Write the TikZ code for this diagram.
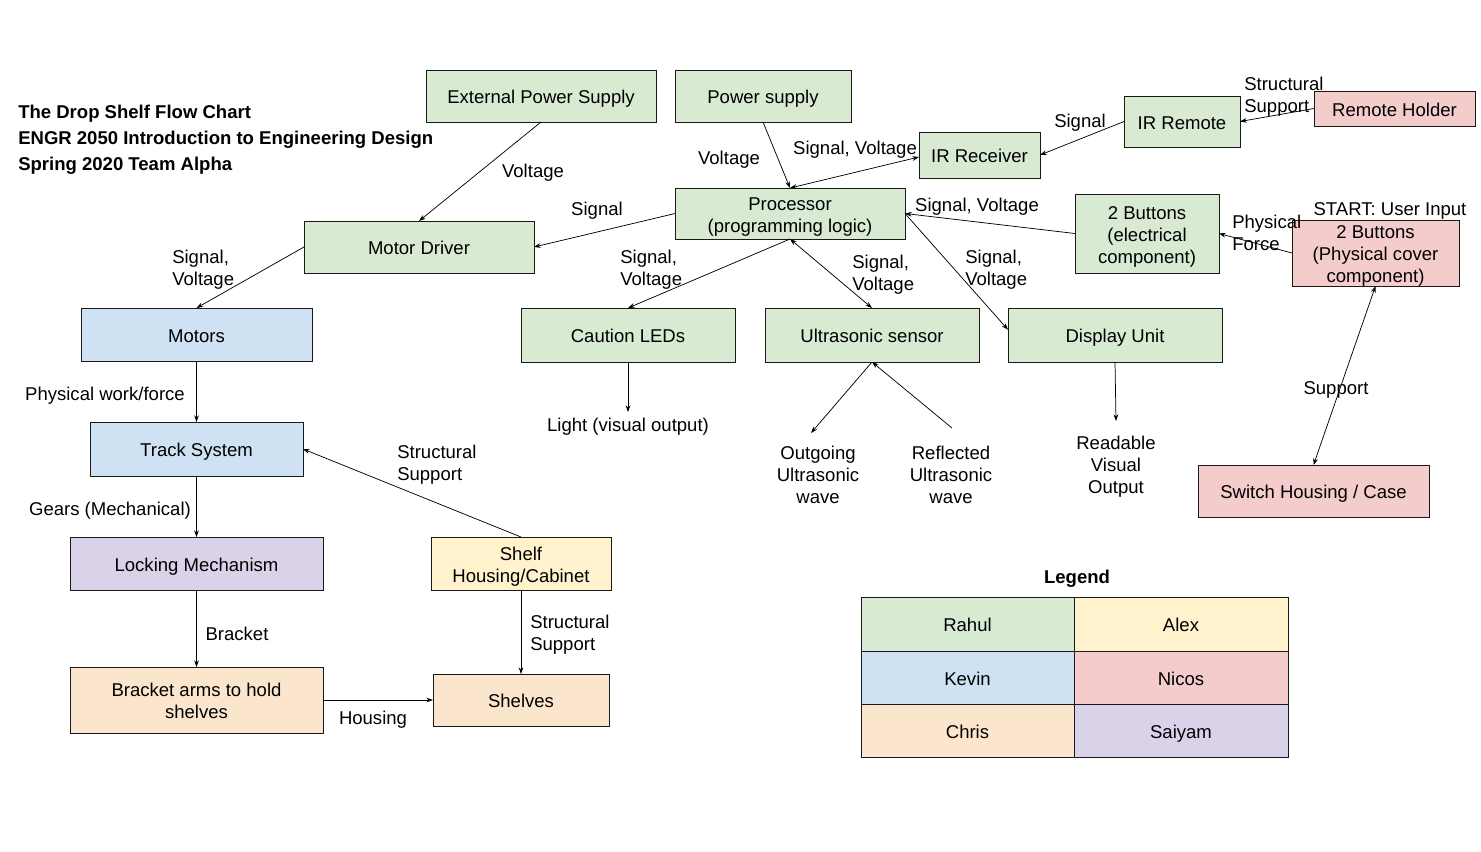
\documentclass[tikz,border=0pt]{standalone}
\usepackage{fontspec}
\setmainfont{Liberation Sans}
\usetikzlibrary{arrows.meta}
\definecolor{cgreen}{HTML}{D9EAD3}
\definecolor{cblue}{HTML}{CFE2F3}
\definecolor{cpink}{HTML}{F4CCCC}
\definecolor{cyellow}{HTML}{FFF2CC}
\definecolor{corange}{HTML}{FCE5CD}
\definecolor{cpurple}{HTML}{D9D2E9}
\newcommand\labfont{\fontsize{13.9}{16.5}\selectfont}
\newcommand\mybox[7]{%
  \node[box,fill=#2,minimum width={(#5-#3)*0.75pt},minimum height={(#6-#4)*0.75pt}] (#1) at ({(#3+#5)/2},{(#4+#6)/2}) {};
  \node[btext] (#1-text) at (#1.center) {\strut #7\strut};}
\begin{document}
\begin{tikzpicture}[x=0.75pt,y=-0.75pt,
  box/.style={draw=black!90,line width=0.7pt,inner sep=0pt,outer sep=0pt},
  btext/.style={inner sep=0pt,align=center,font=\labfont,yshift=-2.6pt},
  lbl/.style={inner sep=0pt,align=center,font=\labfont,yshift=-1.9pt},
  lbll/.style={inner sep=0pt,align=left,anchor=west,font=\labfont,yshift=-1.9pt},
  conn/.style={line width=0.55pt,-{Stealth[length=5pt,width=3.5pt]}},
  bconn/.style={line width=0.55pt,{Stealth[length=5pt,width=3.5pt]}-{Stealth[length=5pt,width=3.5pt]}}]
\fill[white] (0,0) rectangle (1481,851);
\useasboundingbox (0,0) rectangle (1481,851);

% title
\node[inner sep=0pt,anchor=west,align=left,yshift=-1.9pt,font=\bfseries\fontsize{13.9}{19.5}\selectfont] (title) at (18,137)
  {The Drop Shelf Flow Chart\\ENGR 2050 Introduction to Engineering Design\\Spring 2020 Team Alpha};

% boxes
\mybox{extps}{cgreen}{426}{70}{656}{122}{External Power Supply}
\mybox{ps}{cgreen}{675}{70}{851}{122}{Power supply}
\mybox{irr}{cgreen}{919}{132}{1040}{178}{IR Receiver}
\mybox{irremote}{cgreen}{1124}{96}{1240}{147}{IR Remote}
\mybox{holder}{cpink}{1314}{91}{1475}{126}{Remote Holder}
\mybox{proc}{cgreen}{675}{188}{905}{239}{Processor\\(programming logic)}
\mybox{md}{cgreen}{304}{221}{534}{273}{Motor Driver}
\mybox{btn}{cgreen}{1075}{194}{1219}{273}{2 Buttons\\(electrical\\component)}
\mybox{phys}{cpink}{1292}{220}{1459}{286}{2 Buttons\\(Physical cover\\component)}
\mybox{motors}{cblue}{81}{308}{312}{361}{Motors}
\mybox{leds}{cgreen}{521}{308}{735}{362}{Caution LEDs}
\mybox{us}{cgreen}{765}{308}{979}{362}{Ultrasonic sensor}
\mybox{disp}{cgreen}{1008}{308}{1222}{362}{Display Unit}
\mybox{track}{cblue}{90}{422}{303}{476}{Track System}
\mybox{sw}{cpink}{1198}{465}{1429}{517}{Switch Housing / Case}
\mybox{lock}{cpurple}{70}{537}{323}{590}{Locking Mechanism}
\mybox{shelfh}{cyellow}{431}{537}{611}{590}{Shelf\\Housing/Cabinet}
\mybox{bracket}{corange}{70}{667}{323}{733}{Bracket arms to hold\\shelves}
\mybox{shelves}{corange}{433}{674}{609}{726}{Shelves}

% free ends
\coordinate (lightend) at (628,412);
\coordinate (outend) at (811,433);
\coordinate (refstart) at (952,428);
\coordinate (readend) at (1116,421);

% connectors
\draw[conn] (extps.south) -- (md.north);
\draw[conn] (ps.south) -- (proc.north);
\draw[bconn] (proc.north) -- ([yshift=-1.5pt]irr.west);
\draw[conn] (irremote.west) -- (irr.east);
\draw[conn] (holder.west) -- (irremote.east);
\draw[conn] (proc.west) -- (md.east);
\draw[conn] (btn.west) -- (proc.east);
\draw[conn] (phys.west) -- (btn.east);
\draw[conn] (md.west) -- (motors.north);
\draw[conn] (proc.south) -- (leds.north);
\draw[bconn] (proc.south) -- (us.north);
\draw[conn] (proc.east) -- ([yshift=4pt]disp.west);
\draw[conn] (motors.south) -- (track.north);
\draw[conn] (leds.south) -- (lightend);
\draw[conn] (us.south) -- (outend);
\draw[conn] (refstart) -- (us.south);
\draw[conn] (disp.south) -- (readend);
\draw[bconn] (phys.south) -- (sw.north);
\draw[conn] (shelfh.north) -- (track.east);
\draw[conn] (track.south) -- (lock.north);
\draw[conn] (lock.south) -- (bracket.north);
\draw[conn] (shelfh.south) -- (shelves.north);
\draw[conn] (bracket.east) -- (shelves.west);

% labels
\node[lbl] (l1) at (533,170) {Voltage};
\node[lbl] (l2) at (729,157) {Voltage};
\node[lbl] (l3) at (855,147) {Signal, Voltage};
\node[lbl] (l4) at (1080,120) {Signal};
\node[lbll] (l5) at (1244,94) {Structural\\Support};
\node[lbl] (l6) at (597,208) {Signal};
\node[lbl] (l7) at (977,204) {Signal, Voltage};
\node[lbll] (l8) at (1232,230) {Physical\\Force};
\node[lbl] (l9) at (1390,208) {START: User Input};
\node[lbll] (l10) at (172,267) {Signal,\\Voltage};
\node[lbll] (l11) at (620,267) {Signal,\\Voltage};
\node[lbll] (l12) at (852,272) {Signal,\\Voltage};
\node[lbll] (l13) at (965,267) {Signal,\\Voltage};
\node[lbl] (l14) at (105,393) {Physical work/force};
\node[lbl] (l15) at (628,424) {Light (visual output)};
\node[lbl] (l16) at (818,472) {Outgoing\\Ultrasonic\\wave};
\node[lbl] (l17) at (951,472) {Reflected\\Ultrasonic\\wave};
\node[lbl] (l18) at (1116,464) {Readable\\Visual\\Output};
\node[lbl] (l19) at (1336,387) {Support};
\node[lbll] (l20) at (397,462) {Structural\\Support};
\node[lbl] (l21) at (110,508) {Gears (Mechanical)};
\node[lbl] (l22) at (237,631) {Bracket};
\node[lbll] (l23) at (530,632) {Structural\\Support};
\node[lbl] (l24) at (373,717) {Housing};

% legend
\node[lbl,font=\bfseries\labfont] (legend) at (1077,576) {Legend};
\mybox{g1}{cgreen}{861}{597}{1074}{651}{Rahul}
\mybox{g2}{cyellow}{1074}{597}{1288}{651}{Alex}
\mybox{g3}{cblue}{861}{651}{1074}{704}{Kevin}
\mybox{g4}{cpink}{1074}{651}{1288}{704}{Nicos}
\mybox{g5}{corange}{861}{704}{1074}{757}{Chris}
\mybox{g6}{cpurple}{1074}{704}{1288}{757}{Saiyam}
\end{tikzpicture}
\end{document}
